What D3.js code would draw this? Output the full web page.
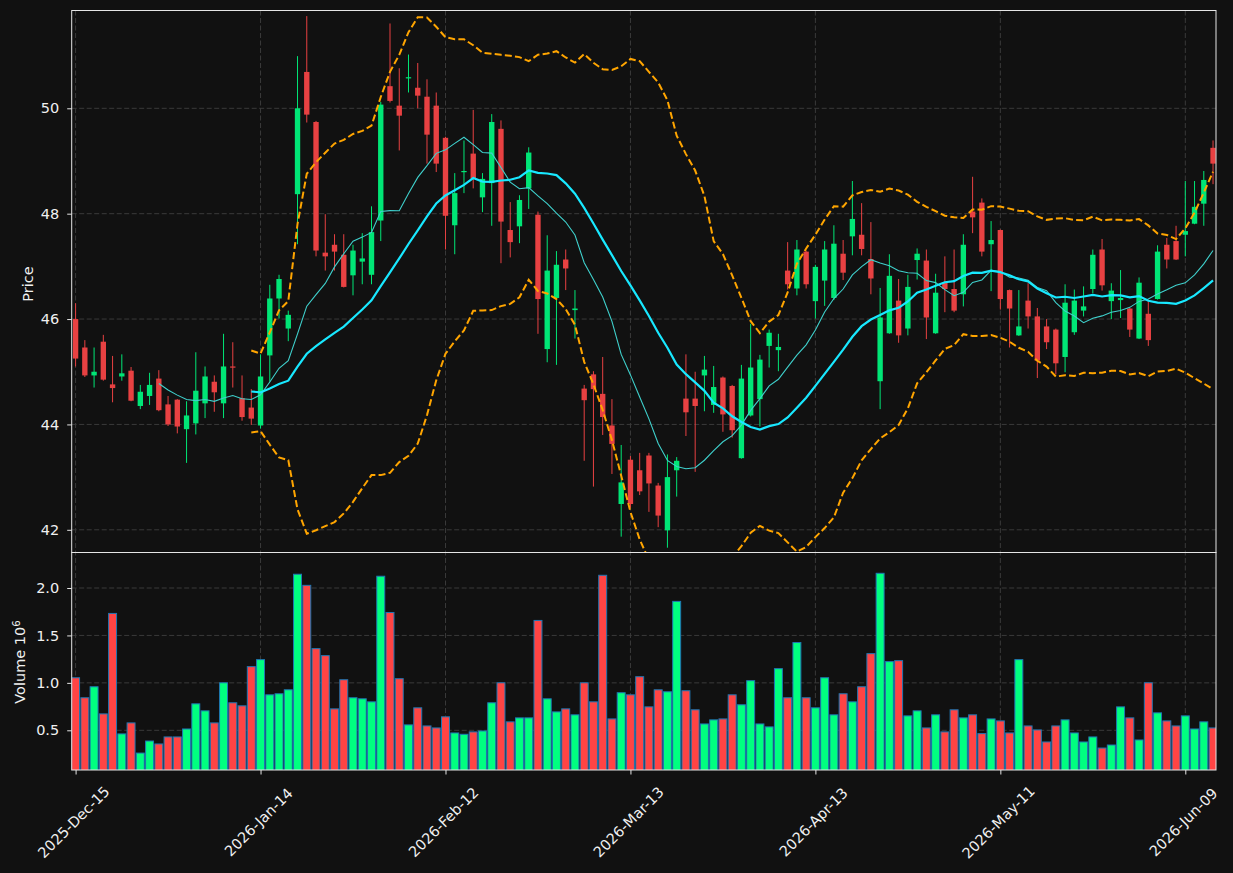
<!DOCTYPE html>
<html><head><meta charset="utf-8">
<script src="https://cdn.jsdelivr.net/npm/d3@7"></script>
<style>
html,body{margin:0;padding:0;background:#111111;}
svg{display:block;font-family:"DejaVu Sans",sans-serif;}
</style>
</head><body><svg id="chart" width="1233" height="873"></svg>
<script>
// ---- data ----
const opens = [46.00,45.46,44.93,45.57,44.76,44.91,45.02,44.35,44.54,44.87,44.38,44.47,43.91,44.02,44.40,44.81,44.40,45.10,44.50,44.32,
43.98,45.31,46.39,45.82,48.37,50.69,49.74,47.26,47.41,47.22,46.83,47.09,46.84,47.87,50.42,50.05,50.57,50.39,50.22,50.05,
49.44,47.78,48.79,49.14,48.31,48.58,49.61,47.69,47.76,48.48,47.98,45.43,46.40,47.13,46.17,44.68,44.95,44.58,43.98,42.49,
43.33,43.13,43.41,42.84,41.99,43.13,44.49,44.49,44.93,44.37,44.89,44.73,43.36,44.17,44.48,45.49,45.41,46.92,46.58,47.28,
46.34,46.73,46.40,47.24,47.57,47.60,47.14,44.82,45.73,46.35,45.82,47.12,47.11,45.73,46.69,46.57,46.47,48.04,48.21,47.42,
47.69,46.55,45.69,46.35,46.05,45.86,45.80,45.28,45.75,46.16,46.57,47.32,46.34,46.36,46.20,45.63,46.10,46.38,47.41,47.48,
47.60,47.81,48.19,49.25];
const highs = [46.30,45.60,45.46,45.70,45.30,45.33,45.09,44.75,44.98,45.03,44.54,44.48,44.44,45.37,45.10,44.93,45.72,45.56,44.93,44.67,
45.33,46.65,46.84,46.16,50.99,51.75,49.76,47.99,47.61,47.61,47.41,47.63,48.14,50.12,51.61,50.76,51.02,50.86,50.55,50.30,
49.46,48.77,49.39,49.97,48.77,49.89,49.77,48.22,48.35,49.26,48.04,47.59,47.29,47.32,46.55,44.75,45.01,45.28,44.48,43.61,
43.40,43.46,43.46,42.89,43.43,43.38,45.33,45.00,45.30,45.11,44.91,44.75,45.13,45.91,45.32,45.80,45.72,47.46,47.50,47.30,
47.03,47.48,47.78,47.50,48.62,48.20,47.84,46.59,47.23,46.76,46.84,47.34,47.32,46.86,47.19,47.32,47.61,48.70,48.29,47.86,
47.70,46.56,46.55,46.68,46.21,46.00,45.82,46.66,46.56,46.62,47.32,47.52,46.68,46.93,46.21,46.79,46.33,47.40,47.54,47.77,
48.62,48.62,48.81,49.39];
const lows = [45.10,44.90,44.70,44.83,44.42,44.83,44.44,44.29,44.37,44.25,43.97,43.83,43.27,43.81,44.12,44.24,44.12,44.70,44.07,43.99,
43.92,44.81,46.01,45.58,47.42,49.73,47.19,46.92,46.92,46.60,46.45,46.66,46.66,47.48,50.11,49.20,50.30,50.00,48.95,48.79,
47.32,47.23,48.39,48.48,48.03,47.77,47.06,47.17,47.44,48.09,45.72,45.18,45.13,46.55,45.63,43.31,42.82,43.80,43.06,41.87,
42.42,42.66,42.34,42.05,41.66,42.63,43.78,43.10,44.25,44.22,43.86,43.75,43.35,44.15,43.96,45.08,45.01,46.56,46.45,46.58,
46.01,46.25,46.36,46.74,47.21,47.21,46.47,44.29,45.72,45.55,45.69,46.75,45.62,45.72,46.13,46.13,46.24,47.63,47.19,46.53,
46.18,45.46,45.68,45.82,44.88,45.43,44.95,44.99,45.70,46.05,46.49,46.54,46.00,46.02,45.66,45.62,45.49,46.37,46.96,47.12,
47.19,47.80,47.77,48.56];
const closes = [45.25,44.93,45.00,44.85,44.69,44.97,44.45,44.62,44.75,44.27,44.00,43.96,44.17,44.64,44.91,44.61,45.10,45.08,44.14,44.11,
44.91,46.39,46.76,46.08,50.00,49.88,47.30,47.19,47.28,46.61,47.30,47.15,47.65,50.07,50.14,49.86,50.59,50.24,49.50,48.95,
47.96,48.39,48.81,48.66,48.66,49.74,47.85,47.46,48.26,49.16,46.38,46.92,47.03,46.96,46.20,44.46,44.67,44.14,43.63,42.90,
42.49,42.73,42.88,42.27,43.00,43.31,44.23,44.35,45.04,44.71,44.19,43.89,44.87,45.08,45.23,45.74,45.47,46.66,47.32,46.66,
46.99,47.32,47.43,46.88,47.90,47.33,46.77,46.03,46.82,45.69,46.61,47.24,46.03,46.50,46.57,46.16,47.41,47.93,47.28,47.50,
46.38,46.20,45.86,46.05,45.21,45.56,45.16,46.31,46.35,46.24,47.22,46.64,46.54,46.40,45.80,46.69,45.60,47.28,47.13,47.13,
47.67,48.13,48.64,48.95];
const volumes = [1.054,0.843,0.959,0.673,1.732,0.462,0.578,0.260,0.387,0.356,0.430,0.430,0.514,0.779,0.705,0.578,1.001,0.790,0.758,1.171,
1.245,0.874,0.885,0.927,2.145,2.028,1.361,1.287,0.726,1.033,0.843,0.832,0.800,2.124,1.742,1.044,0.557,0.737,0.546,0.525,
0.642,0.472,0.458,0.483,0.493,0.790,1.001,0.589,0.631,0.631,1.658,0.832,0.694,0.726,0.663,1.001,0.800,2.134,0.620,0.896,
0.874,1.065,0.747,0.927,0.906,1.859,0.917,0.716,0.567,0.610,0.620,0.874,0.769,1.023,0.567,0.536,1.150,0.843,1.425,0.843,
0.737,1.054,0.663,0.885,0.800,0.959,1.308,2.155,1.224,1.234,0.652,0.705,0.525,0.663,0.483,0.716,0.631,0.663,0.465,0.620,
0.599,0.472,1.245,0.546,0.504,0.377,0.546,0.610,0.472,0.377,0.430,0.313,0.345,0.747,0.631,0.398,1.001,0.684,0.599,0.546,
0.652,0.514,0.589,0.525];
const xTickIdx = [0,20,40,60,80,100,120];
const xTickLabels = ["2025-Dec-15","2026-Jan-14","2026-Feb-12","2026-Mar-13","2026-Apr-13","2026-May-11","2026-Jun-09"];
const priceTicks = [42,44,46,48,50];
const volTicks = [0.5,1.0,1.5,2.0];
const maShort = 10, maLong = 20, bbK = 2;

// ---- layout ----
const L = 71.7, R = 1216, PT = 10.5, PB = 552.5, VB = 770;
const C_UP = "#00e676", C_DN = "#e84142", V_UP = "#00ff80", V_DN = "#ff4444";
const svg = d3.select("#chart");
svg.append("rect").attr("width",1233).attr("height",873).attr("fill","#111111");

const x = d3.scaleLinear().domain([-0.42, 123.32]).range([L, R]);
const yP = d3.scaleLinear().domain([42,50]).range([529.8,108.3]);
const yV = d3.scaleLinear().domain([0.5,2.0]).range([730.3,588]);
const step = x(1)-x(0);
const n = closes.length;
const idx = d3.range(n);

const defs = svg.append("defs");
defs.append("clipPath").attr("id","cp").append("rect").attr("x",L).attr("y",PT).attr("width",R-L).attr("height",PB-PT);
defs.append("clipPath").attr("id","cv").append("rect").attr("x",L).attr("y",PB).attr("width",R-L).attr("height",VB-PB);

// grid
const gridC = "#3a3a3a", gridDash = "5,2.5";
const grid = svg.append("g");
xTickIdx.forEach(i => {
  grid.append("line").attr("x1",x(i)).attr("x2",x(i)).attr("y1",PT).attr("y2",VB)
    .attr("stroke",gridC).attr("stroke-dasharray",gridDash).attr("stroke-width",1);
});
priceTicks.forEach(v => grid.append("line").attr("x1",L).attr("x2",R).attr("y1",yP(v)).attr("y2",yP(v))
  .attr("stroke",gridC).attr("stroke-dasharray",gridDash));
volTicks.forEach(v => grid.append("line").attr("x1",L).attr("x2",R).attr("y1",yV(v)).attr("y2",yV(v))
  .attr("stroke",gridC).attr("stroke-dasharray",gridDash));

// candles
const gP = svg.append("g").attr("clip-path","url(#cp)");
const up = i => closes[i] >= opens[i];
gP.selectAll("line.wick").data(idx).join("line")
  .attr("x1",i=>x(i)).attr("x2",i=>x(i)).attr("y1",i=>yP(highs[i])).attr("y2",i=>yP(lows[i]))
  .attr("stroke",i=>up(i)?C_UP:C_DN).attr("stroke-width",1);
const bw = step*0.58;
gP.selectAll("rect.body").data(idx).join("rect")
  .attr("x",i=>x(i)-bw/2).attr("width",bw)
  .attr("y",i=>yP(Math.max(opens[i],closes[i])))
  .attr("height",i=>Math.max(1.2, Math.abs(yP(opens[i])-yP(closes[i]))))
  .attr("fill",i=>up(i)?C_UP:C_DN);

// indicators
function sma(a,p){return a.map((v,i)=> i<p-1?null:d3.mean(a.slice(i-p+1,i+1)));}
function sd(a,p){return a.map((v,i)=>{ if(i<p-1) return null; const s=a.slice(i-p+1,i+1); const m=d3.mean(s); return Math.sqrt(d3.mean(s.map(t=>(t-m)*(t-m))));});}
const ma10 = sma(closes,maShort), ma20 = sma(closes,maLong), s20 = sd(closes,maLong);
const bbU = ma20.map((m,i)=> m==null?null:m+bbK*s20[i]);
const bbL = ma20.map((m,i)=> m==null?null:m-bbK*s20[i]);
const line = arr => d3.line().defined(i=>arr[i]!=null).x(i=>x(i)).y(i=>yP(arr[i]))(idx);
gP.append("path").attr("d",line(ma10)).attr("fill","none").attr("stroke","#3fd0cc").attr("stroke-width",1.1);
gP.append("path").attr("d",line(ma20)).attr("fill","none").attr("stroke","#18e8ff").attr("stroke-width",2.2);
gP.append("path").attr("d",line(bbU)).attr("fill","none").attr("stroke","#ffa500").attr("stroke-width",2).attr("stroke-dasharray","7,3.2");
gP.append("path").attr("d",line(bbL)).attr("fill","none").attr("stroke","#ffa500").attr("stroke-width",2).attr("stroke-dasharray","7,3.2");

// volume
const gV = svg.append("g").attr("clip-path","url(#cv)");
const vw = step*0.86;
gV.selectAll("rect.vol").data(idx).join("rect")
  .attr("x",i=>x(i)-vw/2).attr("width",vw)
  .attr("y",i=>yV(volumes[i])).attr("height",i=>VB+5-yV(volumes[i]))
  .attr("fill",i=>up(i)?V_UP:V_DN).attr("stroke","#1f77b4").attr("stroke-width",1);

// spines
const spine = "#e6e6e6";
svg.append("rect").attr("x",L).attr("y",PT).attr("width",R-L).attr("height",PB-PT).attr("fill","none").attr("stroke",spine).attr("stroke-width",1);
svg.append("rect").attr("x",L).attr("y",PB).attr("width",R-L).attr("height",VB-PB).attr("fill","none").attr("stroke",spine).attr("stroke-width",1);

// axes
const txtC = "#f0f0f0", fs = "14.5px";
function styleAxis(g){
  g.select(".domain").remove();
  g.selectAll(".tick line").attr("stroke",spine);
  g.selectAll(".tick text").attr("fill",txtC).style("font-size",fs).style("font-family","DejaVu Sans");
}
svg.append("g").attr("transform",`translate(${L},0)`)
  .call(d3.axisLeft(yP).tickValues(priceTicks).tickFormat(d3.format("d")).tickSize(4.5).tickPadding(8)).call(styleAxis);
svg.append("g").attr("transform",`translate(${L},0)`)
  .call(d3.axisLeft(yV).tickValues(volTicks).tickFormat(d3.format(".1f")).tickSize(4.5).tickPadding(8)).call(styleAxis);
const xa = svg.append("g").attr("transform",`translate(0,${VB})`)
  .call(d3.axisBottom(x).tickValues(xTickIdx).tickFormat((d,i)=>xTickLabels[i]).tickSize(4.5)).call(styleAxis);
xa.selectAll(".tick text")
  .attr("text-anchor","middle").attr("y",0).attr("dy","0.36em")
  .attr("transform","translate(-2.5,52) rotate(-45)");

// labels
svg.append("text").attr("transform","translate(32.5,284) rotate(-90)").attr("text-anchor","middle")
  .attr("fill",txtC).style("font-size",fs).text("Price");
const vl = svg.append("text").attr("transform","translate(25,662) rotate(-90)").attr("text-anchor","middle")
  .attr("fill",txtC).style("font-size",fs);
vl.append("tspan").text("Volume  10");
vl.append("tspan").attr("dy","-0.45em").style("font-size","10.2px").text("6");
</script>
</body></html>
